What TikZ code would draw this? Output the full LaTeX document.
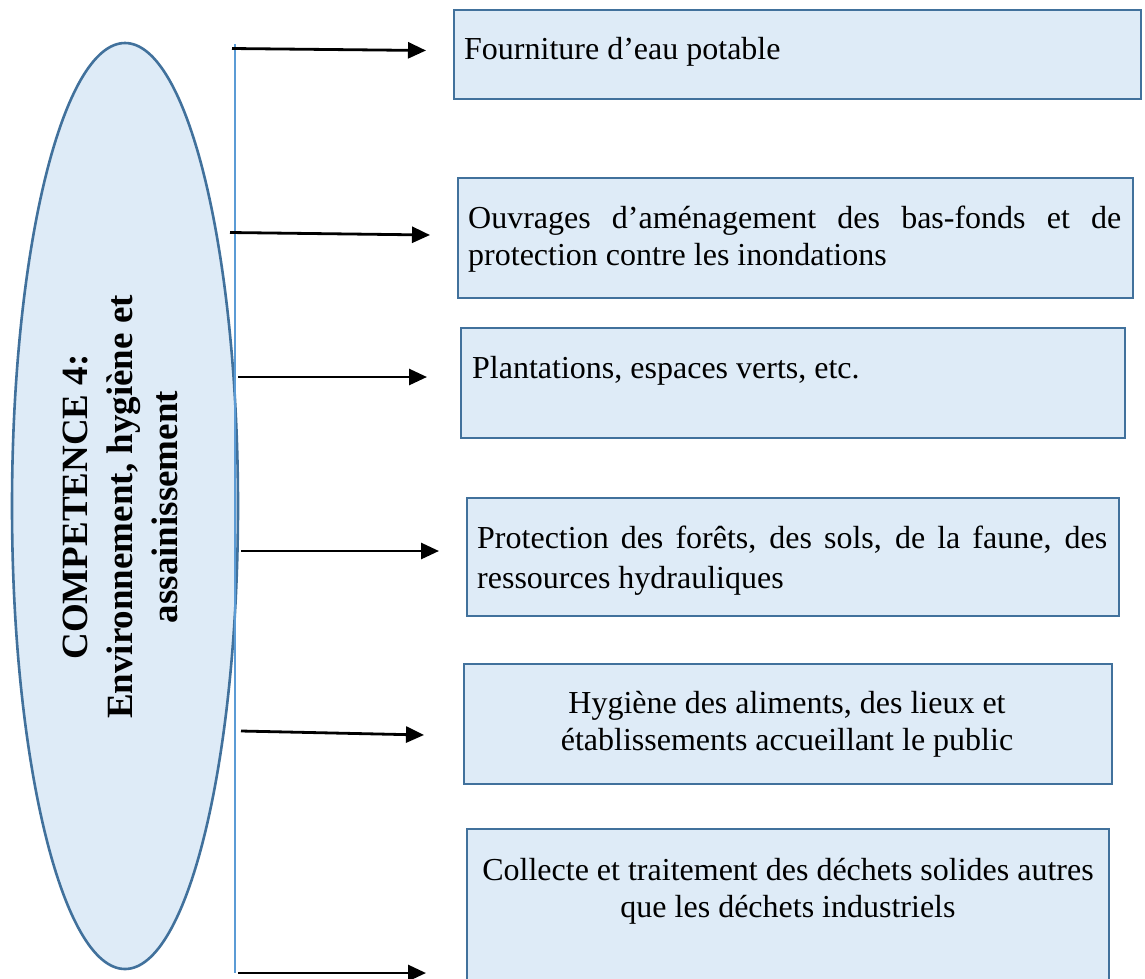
\documentclass[tikz,border=0pt]{standalone}
\usepackage{fontspec}
\setmainfont{Liberation Serif}
\usetikzlibrary{arrows.meta,shapes.geometric}
\definecolor{boxfill}{HTML}{DEEBF7}
\definecolor{boxline}{HTML}{41719C}
\definecolor{vlinecol}{HTML}{5B9BD5}
\begin{document}
\begin{tikzpicture}[x=1pt,y=-1pt,
  box/.style={draw=boxline, fill=boxfill, line width=2pt, anchor=north west, inner sep=0pt},
  txt/.style={inner sep=0pt, anchor=base west, font=\fontsize{32}{37}\selectfont},
  ctxt/.style={inner sep=0pt, anchor=base, font=\fontsize{32}{37}\selectfont},
  arr/.style={-{Triangle[length=18pt,width=16pt]}, line width=2.8pt, black}]
\useasboundingbox (0,0) rectangle (1145,978);
\clip (0,0) rectangle (1145,978);

% ellipse
\node[ellipse, draw=boxline, fill=boxfill, line width=2.6pt, minimum width=226pt, minimum height=926pt, inner sep=0pt] (ell) at (125,506) {};
\node[rotate=90, align=center, inner sep=0pt, font=\bfseries\fontsize{37}{45}\selectfont] (etxt) at (120,507) {COMPETENCE 4:\\Environnement, hygiène et\\assainissement};

% vertical line
\coordinate (vt) at (235,44);
\coordinate (vb) at (235,973);
\draw[vlinecol, line width=1.2pt] (vt) -- (vb);

% boxes
\node[box, minimum width=687pt, minimum height=89pt] (b1) at (453,9) {};
\node[box, minimum width=675pt, minimum height=120pt] (b2) at (457,177) {};
\node[box, minimum width=664pt, minimum height=110pt] (b3) at (460,327) {};
\node[box, minimum width=652pt, minimum height=118pt] (b4) at (466,497) {};
\node[box, minimum width=648pt, minimum height=120pt] (b5) at (463,663) {};
\node[box, minimum width=642pt, minimum height=170pt] (b6) at (466,828) {};

% texts
\node[txt] (t1) at (464,59) {Fourniture d’eau potable};
\node[txt] (t2) at (468,228) {\parbox[t]{653pt}{\makebox[653pt][s]{Ouvrages d’aménagement des bas-fonds et de}\\protection contre les inondations}};
\node[txt] (t3) at (472,378) {Plantations, espaces verts, etc.};
\node[txt, font=\fontsize{32}{40}\selectfont] (t4) at (477,548) {\parbox[t]{630pt}{\makebox[630pt][s]{Protection des forêts, des sols, de la faune, des}\\ressources hydrauliques}};
\node[ctxt] (t5) at (787,713) {\parbox[t]{640pt}{\centering Hygiène des aliments, des lieux et\\établissements accueillant le public}};
\node[ctxt] (t6) at (788,880) {\parbox[t]{636pt}{\centering Collecte et traitement des déchets solides autres\\que les déchets industriels}};

% arrows
\coordinate (a1s) at (232,48.5); \coordinate (a1e) at (426,50.5);
\coordinate (a2s) at (230,232.5); \coordinate (a2e) at (430,235);
\coordinate (a3s) at (238,377); \coordinate (a3e) at (427,377);
\coordinate (a4s) at (241,551); \coordinate (a4e) at (439,551);
\coordinate (a5s) at (241,731); \coordinate (a5e) at (424,735);
\coordinate (a6s) at (238,973); \coordinate (a6e) at (426,973);
\draw[arr] (a1s) -- (a1e);
\draw[arr] (a2s) -- (a2e);
\draw[arr] (a3s) -- (a3e);
\draw[arr] (a4s) -- (a4e);
\draw[arr] (a5s) -- (a5e);
\draw[arr] (a6s) -- (a6e);
\end{tikzpicture}
\end{document}
